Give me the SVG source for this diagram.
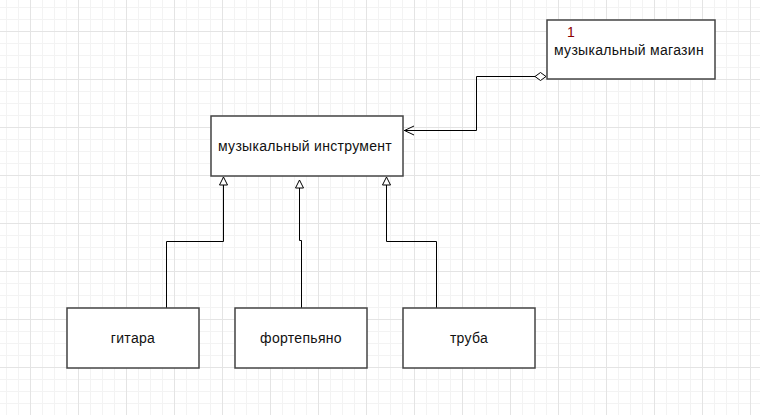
<svg xmlns="http://www.w3.org/2000/svg" width="760" height="415" viewBox="0 0 760 415">
  <defs>
    <pattern id="minor" x="6" y="7" width="12" height="12" patternUnits="userSpaceOnUse">
      <path d="M0.5 0V12M0 0.5H12" stroke="#f3f3f3" stroke-width="1" fill="none"/>
    </pattern>
    <pattern id="major" x="30" y="31" width="48" height="48" patternUnits="userSpaceOnUse">
      <path d="M0.5 0V48M0 0.5H48" stroke="#e4e4e4" stroke-width="1" fill="none"/>
    </pattern>
    <marker id="tri" viewBox="0 0 10 10" refX="0" refY="5" markerWidth="10" markerHeight="10" markerUnits="userSpaceOnUse" orient="auto">
      <path d="M1 1L9 5L1 9Z" fill="#fff" stroke="#000" stroke-width="1"/>
    </marker>
  </defs>
  <style>
    .node rect { fill: #fff; stroke: #444; stroke-width: 1.5; }
    .lbl { font-family: "Liberation Sans", Arial, sans-serif; font-size: 14px; fill: #111; letter-spacing: 0.3px; }
    .edge { fill: none; stroke: #000; stroke-width: 1; }
    .head { fill: #fff; stroke: #000; stroke-width: 1; }
  </style>
  <rect width="760" height="415" fill="#fff"/>
  <rect width="760" height="415" fill="url(#minor)"/>
  <rect width="760" height="415" fill="url(#major)"/>

  <g id="connectors">
    <!-- aggregation: shop -> instrument -->
    <path class="edge" d="M535 76.5H476.5V130.5H404"/>
    <path class="head" d="M546 76.5L540.5 72.5L535 76.5L540.5 80.5Z"/>
    <path class="edge" d="M414 126L404.5 130.5L414 135"/>
    <!-- generalizations -->
    <path class="edge" d="M223.5 185V241.5H166.5V308"/>
    <path class="head" d="M223.5 177L219.5 185L227.5 185Z"/>
    <path class="edge" d="M299.5 188V240.5H301.5V308"/>
    <path class="head" d="M299.5 180L295.5 188L303.5 188Z"/>
    <path class="edge" d="M386.5 185V241.5H436.5V308"/>
    <path class="head" d="M386.5 177L382.5 185L390.5 185Z"/>
  </g>

  <g id="shop" class="node">
    <rect x="547" y="20" width="168" height="59"/>
    <text class="lbl" x="567" y="37" style="fill:#8b0000">1</text>
    <text class="lbl" x="554" y="55">музыкальный магазин</text>
  </g>
  <g id="instrument" class="node">
    <rect x="211" y="116" width="192" height="60"/>
    <text class="lbl" x="218" y="151">музыкальный инструмент</text>
  </g>
  <g id="guitar" class="node">
    <rect x="67" y="308" width="132" height="60"/>
    <text class="lbl" x="133" y="343" text-anchor="middle">гитара</text>
  </g>
  <g id="piano" class="node">
    <rect x="235" y="308" width="132" height="60"/>
    <text class="lbl" x="301" y="343" text-anchor="middle">фортепьяно</text>
  </g>
  <g id="trumpet" class="node">
    <rect x="403" y="308" width="132" height="60"/>
    <text class="lbl" x="469" y="343" text-anchor="middle">труба</text>
  </g>
</svg>
